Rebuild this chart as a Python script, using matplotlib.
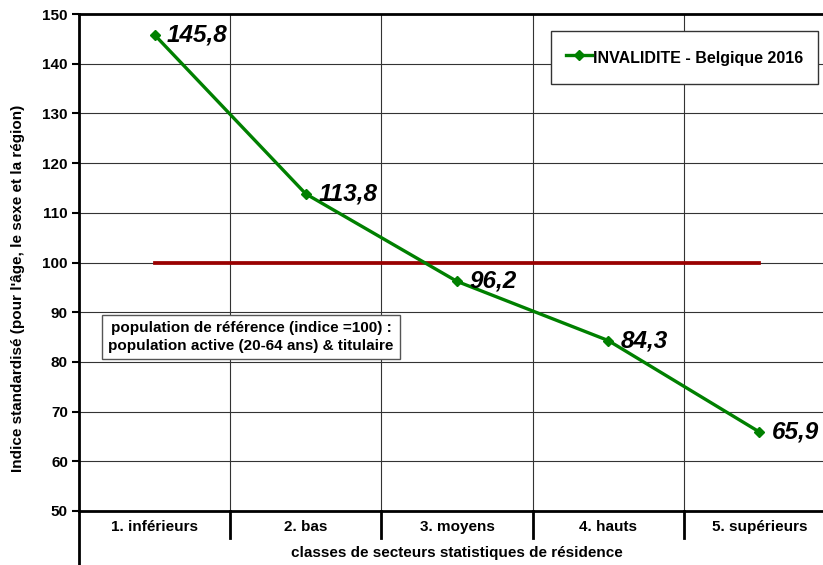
import matplotlib
matplotlib.use("Agg")
import matplotlib.pyplot as plt
from matplotlib.lines import Line2D

categories = ["1. inférieurs", "2. bas", "3. moyens", "4. hauts", "5. supérieurs"]
values = [145.8, 113.8, 96.2, 84.3, 65.9]
value_labels = ["145,8", "113,8", "96,2", "84,3", "65,9"]
reference = [100, 100, 100, 100, 100]
series_name = "INVALIDITE - Belgique 2016"
note = "population de référence (indice =100) :\npopulation active (20-64 ans) & titulaire"
ylabel = "Indice standardisé (pour l'âge, le sexe et la région)"
xlabel = "classes de secteurs statistiques de résidence"

plt.rcParams['font.family'] = ['Liberation Sans', 'DejaVu Sans']

W, H = 823, 565
fig = plt.figure(figsize=(W / 100, H / 100), dpi=100)
L, R, T, B = 79, 835, 14, 511
ax = fig.add_axes([L / W, 1 - B / H, (R - L) / W, (B - T) / H])

x = list(range(len(categories)))
ax.set_xlim(-0.5, len(categories) - 0.5)
ax.set_ylim(50, 150)
ax.set_yticks(range(50, 151, 10))
ax.set_yticklabels([str(v) for v in range(50, 151, 10)], fontsize=11, fontweight='bold')
ax.tick_params(axis='y', direction='out', length=5, width=1.5, pad=3)
ax.set_xticks([])

# grid
for yv in range(60, 150, 10):
    ax.axhline(yv, color='#333333', lw=0.8, zorder=1)
for xb in [0.5, 1.5, 2.5, 3.5]:
    ax.axvline(xb, color='#333333', lw=0.8, zorder=1)

for s in ['top', 'bottom']:
    ax.spines[s].set_linewidth(2)
ax.spines['left'].set_linewidth(2)
ax.spines['right'].set_visible(False)

ax.plot(x, reference, color='#990000', lw=2.7, zorder=2)
ax.plot(x, values, color='#008000', lw=2.4, marker='D', markersize=5, zorder=3,
        label=series_name)

for xi, v, lab in zip(x, values, value_labels):
    ax.annotate(lab, (xi, v), xytext=(9, 0), textcoords='offset points',
                fontsize=17.5, fontweight='bold', fontstyle='italic', va='center', ha='left')

# category table below
tr = ax.get_xaxis_transform()
for xb in [0.5, 1.5, 2.5, 3.5]:
    ax.add_line(Line2D([xb, xb], [0, -27 / (B - T)], transform=tr, color='black',
                       lw=2, clip_on=False))
ax.add_line(Line2D([-0.5, -0.5], [0, -(H - B + 2) / (B - T)], transform=tr, color='black',
                   lw=2, clip_on=False))
for xi, c in zip(x, categories):
    ax.text(xi, -16 / (B - T), c, transform=tr, ha='center', va='center',
            fontsize=11, fontweight='bold')

fig.text((L + R) / 2 / W, 1 - 553 / H, xlabel, ha='center', va='center',
         fontsize=11, fontweight='bold')
fig.text(18 / W, 1 - 288 / H, ylabel, ha='center', va='center', rotation=90,
         fontsize=11, fontweight='bold')

leg = ax.legend(loc='upper left', bbox_to_anchor=((551 - L) / (R - L), 1 - (31 - T) / (B - T)),
                frameon=True, fancybox=False, borderpad=0.95, handlelength=1.6,
                handleheight=1.85, handletextpad=0.05, borderaxespad=0,
                prop={'weight': 'bold', 'size': 11.5})
leg.get_frame().set_edgecolor('#333333')
leg.get_frame().set_linewidth(1)
leg.get_frame().set_alpha(1)

ax.text((251 - L) / (R - L), 1 - (337 - T) / (B - T), note, transform=ax.transAxes,
        ha='center', va='center', fontsize=11, fontweight='bold', linespacing=1.3,
        bbox=dict(boxstyle='square,pad=0.4', facecolor='white', edgecolor='#555555', lw=1),
        zorder=5)

fig.savefig("out.png", dpi=100)
